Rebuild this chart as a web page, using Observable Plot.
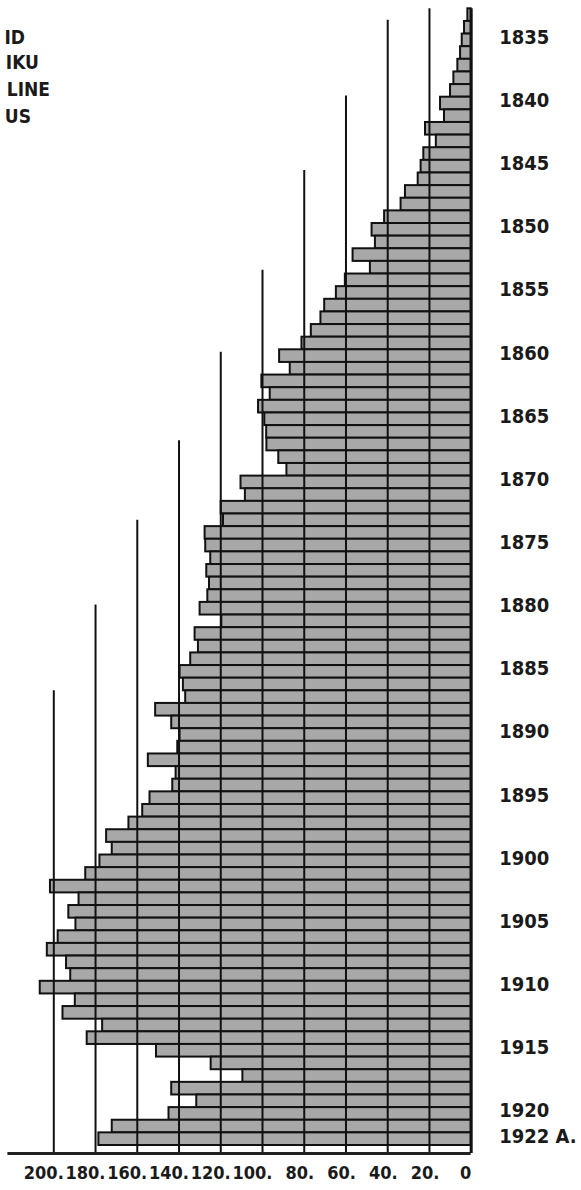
<!DOCTYPE html>
<html><head><meta charset="utf-8">
<script src="https://cdn.jsdelivr.net/npm/d3@7"></script>
<script src="https://cdn.jsdelivr.net/npm/@observablehq/plot@0.6"></script>
<style>
body{margin:0;background:#fff;}
#wrap{position:relative;width:581px;height:1190px;overflow:hidden;background:#fff;}
.t{position:absolute;font-family:"DejaVu Sans Condensed","DejaVu Sans",sans-serif;font-weight:bold;font-size:19px;line-height:1;white-space:nowrap;color:#1a1a1a;}
</style></head><body><div id="wrap"></div>
<script>
// categories: one bar per year
const years = d3.range(1833, 1923);
// series values (bar length on the 0–200 scale)
const values = [
  1.6, 3.2, 4.3, 5.1, 6.4, 8.3, 9.9, 14.7, 12.8, 21.9,
  16.7, 22.7, 24.0, 25.4, 31.5, 33.6, 41.5, 47.5, 45.9, 56.6,
  48.3, 60.3, 64.6, 70.2, 72.0, 76.6, 81.1, 91.8, 86.7, 100.3,
  96.3, 101.9, 98.9, 98.0, 97.9, 92.2, 88.3, 110.3, 108.2, 119.8,
  118.7, 127.5, 127.2, 124.8, 126.7, 125.4, 126.2, 129.9, 119.5, 132.3,
  130.7, 134.4, 139.5, 137.9, 136.8, 151.2, 143.5, 139.5, 140.6, 154.7,
  141.4, 143.0, 153.9, 157.4, 164.0, 174.7, 172.0, 177.9, 184.7, 201.6,
  187.9, 192.8, 189.4, 197.9, 203.1, 193.9, 191.9, 206.5, 189.7, 195.6,
  176.6, 184.0, 150.8, 124.6, 109.4, 143.5, 131.5, 144.8, 172.0, 178.4
];
// vertical reference lines and the year where each one starts
const gridValues = [20, 40, 60, 80, 100, 120, 140, 160, 180, 200];
const gridTopYears = [1832.5, 1833.4, 1839.4, 1845.3, 1853.2, 1859.7, 1866.7, 1873.0, 1879.7, 1886.5];
const baselineYear = 1923.13;
const baselineEnd = 222;
// tick labels
const tickValues = [200, 180, 160, 140, 120, 100, 80, 60, 40, 20, 0];
const tickLabels = ["200.", "180.", "160.", "140.", "120.", "100.", "80.", "60.", "40.", "20.", "0"];
// year labels
const labelYears = [1835, 1840, 1845, 1850, 1855, 1860, 1865, 1870, 1875, 1880, 1885, 1890, 1895, 1900, 1905, 1910, 1915, 1920, 1922];
const labelTexts = ["1835", "1840", "1845", "1850", "1855", "1860", "1865", "1870", "1875", "1880", "1885", "1890", "1895", "1900", "1905", "1910", "1915", "1920", "1922 A."];
// title fragments visible at the top-left edge
const titleLines = ["ID", "IKU", "LINE", "US"];
const titleRight = [556, 542, 531, 550];
const titleTop = [28, 53, 80, 107];

const bars = years.map((year, i) => ({year, value: values[i]}));
const grid = gridValues.map((v, i) => ({value: v, top: gridTopYears[i]}));
const ticks = tickValues.map((v, i) => ({value: v, label: tickLabels[i]}));
const yearLabels = labelYears.map((y, i) => ({year: y, label: labelTexts[i]}));

const font = {fontFamily: "'DejaVu Sans Condensed','DejaVu Sans',sans-serif", fontWeight: "bold", fill: "#1a1a1a"};

const chart = Plot.plot({
  width: 581,
  height: 1190,
  marginLeft: 53.3,
  marginRight: 110.3,
  marginTop: 8.3,
  marginBottom: 45,
  style: {background: "transparent", overflow: "visible"},
  x: {domain: [0, 200], reverse: true, axis: null},
  y: {domain: [1922.5, 1832.5], axis: null},
  marks: [
    Plot.rect(bars, {x1: 0, x2: "value", y1: d => d.year - 0.5, y2: d => d.year + 0.5,
      fill: "#a8a8a8", stroke: "#111", strokeWidth: 2}),
    Plot.ruleX(grid, {x: "value", y1: "top", y2: baselineYear, stroke: "#111", strokeWidth: 2}),
    Plot.ruleX([0], {y1: 1832.5, y2: baselineYear, stroke: "#111", strokeWidth: 3}),
    Plot.ruleY([baselineYear], {x1: 0, x2: baselineEnd, stroke: "#222", strokeWidth: 3}),
    Plot.text(yearLabels, {y: "year", text: "label", frameAnchor: "right", textAnchor: "start",
      dx: 28, dy: -3, fontSize: 20, ...font}),
    Plot.text(ticks.filter(d => d.value !== 0), {x: "value", text: "label", frameAnchor: "bottom",
      textAnchor: "end", dx: 10, dy: 33, fontSize: 18, ...font}),
    Plot.text(ticks.filter(d => d.value === 0), {x: "value", text: "label", frameAnchor: "bottom",
      textAnchor: "end", dx: 0, dy: 33, fontSize: 18, ...font})
  ]
});
const wrap = document.getElementById("wrap");
wrap.appendChild(chart);
titleLines.forEach((t, i) => {
  const d = document.createElement("div");
  d.className = "t";
  d.textContent = t;
  d.style.right = titleRight[i] + "px";
  d.style.top = titleTop[i] + "px";
  wrap.appendChild(d);
});
</script></body></html>
